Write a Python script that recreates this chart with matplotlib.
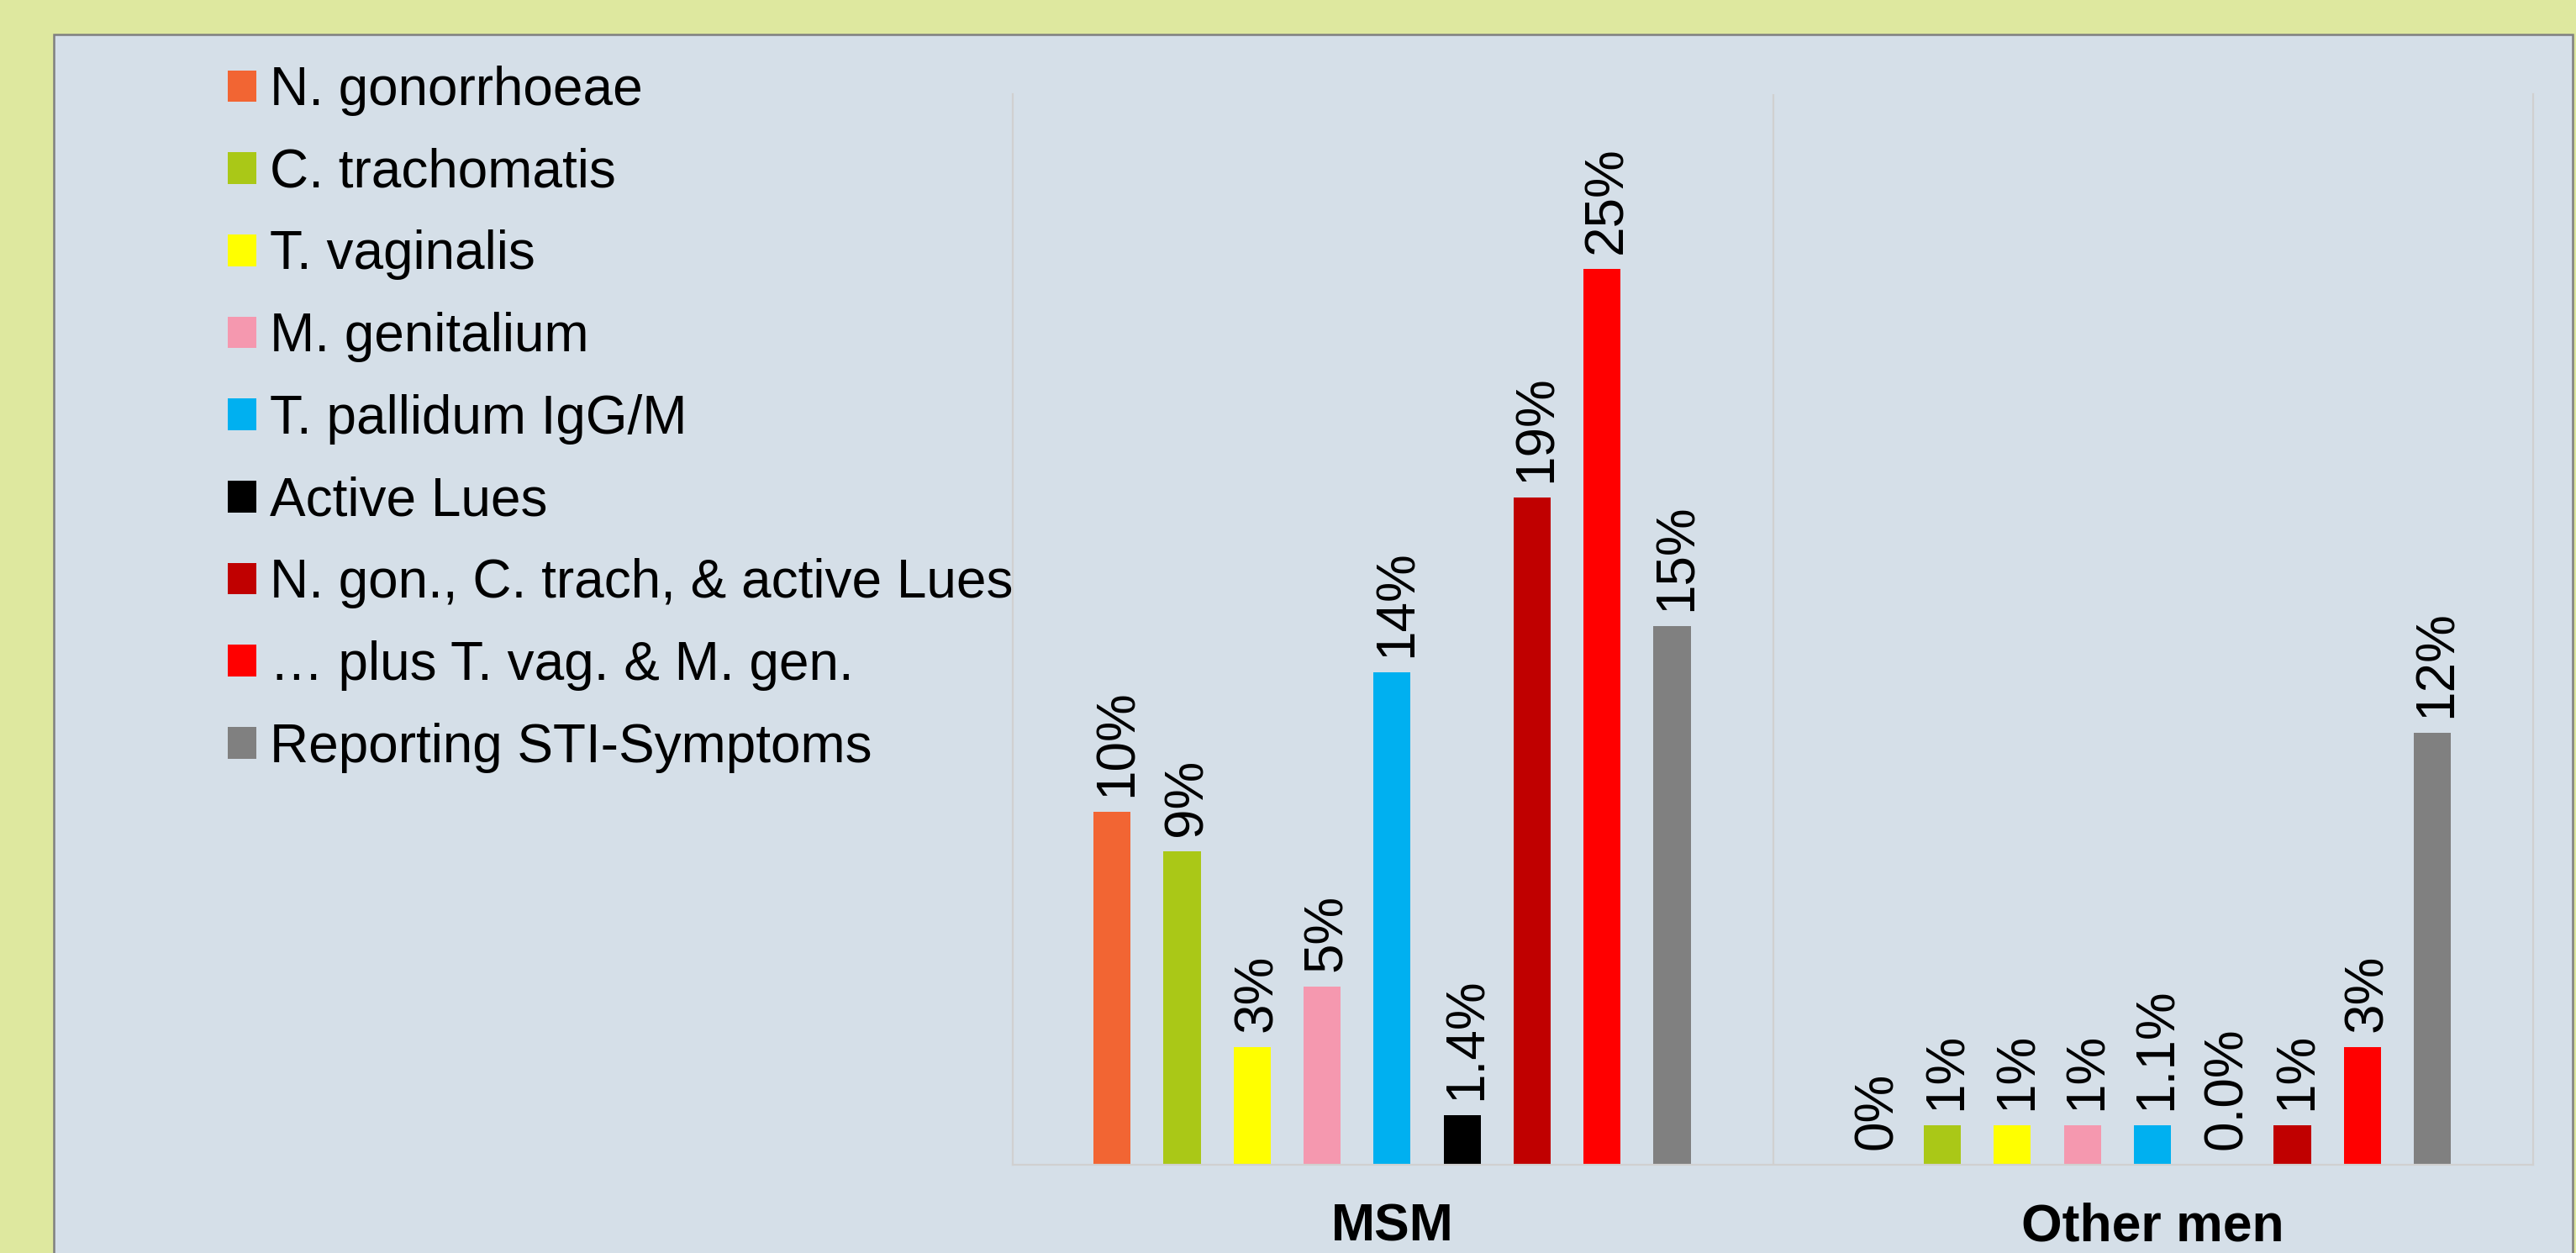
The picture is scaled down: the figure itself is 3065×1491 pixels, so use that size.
import matplotlib
matplotlib.use("Agg")
import matplotlib.pyplot as plt
from matplotlib.patches import Rectangle, Patch

plt.rcParams['font.family'] = ['Liberation Sans', 'DejaVu Sans']

# ---------------- data ----------------
groups = ["MSM", "Other men"]
series = ["N. gonorrhoeae", "C. trachomatis", "T. vaginalis", "M. genitalium",
          "T. pallidum IgG/M", "Active Lues", "N. gon., C. trach, & active Lues",
          "\u2026 plus T. vag. & M. gen.", "Reporting STI-Symptoms"]
colors = ["#F26533", "#AAC817", "#FFFF00", "#F598AF", "#00B0F0", "#000000",
          "#C00000", "#FF0000", "#808080"]
msm_values = [9.89, 8.78, 3.30, 4.99, 13.80, 1.39, 18.70, 25.10, 15.09]
other_values = [0.0, 1.1, 1.1, 1.1, 1.1, 0.0, 1.1, 3.30, 12.10]
msm_labels = ["10%", "9%", "3%", "5%", "14%", "1.4%", "19%", "25%", "15%"]
other_labels = ["0%", "1%", "1%", "1%", "1.1%", "0.0%", "1%", "3%", "12%"]

# ---------------- figure ----------------
W, H, DPI = 3065, 1491, 100
fig = plt.figure(figsize=(W / DPI, H / DPI), dpi=DPI, facecolor="#DEE89F")

# panel
panel = Rectangle((64 / W, -0.05), (3061 - 64) / W, 0.05 + (H - 41) / H,
                  transform=fig.transFigure, facecolor="#D5DFE8",
                  edgecolor="#7F7F7F", linewidth=1.8, zorder=-5)
fig.patches.append(panel)

ax_left, ax_right = 1205 / W, 3014 / W
ax_bottom, ax_top = (H - 1386) / H, (H - 112) / H
ax = fig.add_axes([ax_left, ax_bottom, ax_right - ax_left, ax_top - ax_bottom])
ax.set_facecolor("none")
ax.set_zorder(2)

group_w = 10.86
x_start = -1.42
grid_col = "#D0D0D0"

all_values = [msm_values, other_values]
all_labels = [msm_labels, other_labels]
for g in range(len(groups)):
    for i in range(len(series)):
        x = g * group_w + i
        v = all_values[g][i]
        ax.bar(x, v, width=0.53, color=colors[i], linewidth=0, zorder=2)
        ax.annotate(all_labels[g][i], xy=(x, v), xytext=(23, 18),
                    textcoords="offset pixels", rotation=90,
                    rotation_mode="anchor", ha="left", va="baseline",
                    fontsize=46, color="black", zorder=3)

ax.set_xlim(x_start, x_start + 2 * group_w)
ax.set_ylim(0, 30)
ax.axvline(x_start + group_w, color=grid_col, linewidth=1.6, zorder=1)

for s in ["top"]:
    ax.spines[s].set_visible(False)
for s in ["left", "right", "bottom"]:
    ax.spines[s].set_color(grid_col)
    ax.spines[s].set_linewidth(1.6)

ax.set_yticks([])
ax.set_xticks([g * group_w + 4 for g in range(len(groups))])
ax.set_xticklabels(groups, fontsize=45, fontweight="bold")
ax.tick_params(axis="x", length=0, pad=32)

# legend
handles = [Patch(facecolor=c, edgecolor="none") for c in colors]
leg = fig.legend(handles, series, loc="upper left",
                 bbox_to_anchor=(271 / W, (H - 78) / H),
                 frameon=False, fontsize=46, borderpad=0, borderaxespad=0,
                 handlelength=0.53, handleheight=0.53, handletextpad=0.25,
                 labelspacing=0.59)
leg.set_zorder(3)

fig.savefig("out.png", dpi=DPI, facecolor=fig.get_facecolor())
